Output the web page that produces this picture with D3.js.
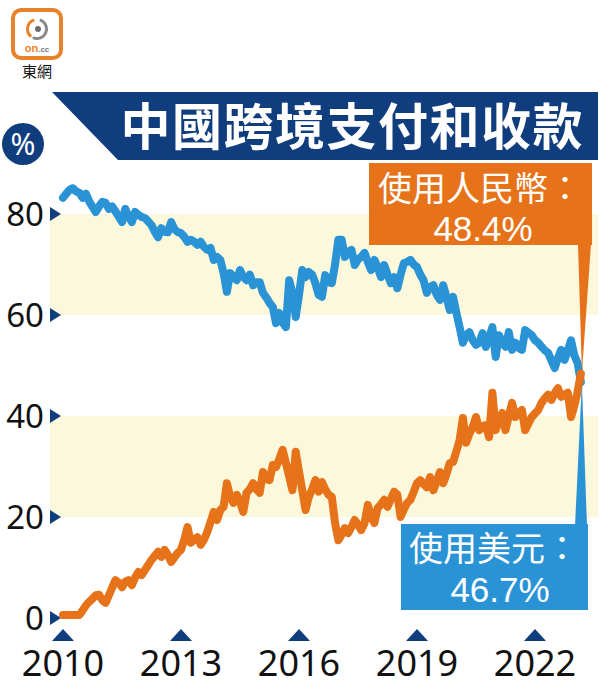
<!DOCTYPE html>
<html><head><meta charset="utf-8">
<script src="https://cdn.jsdelivr.net/npm/d3@7"></script>
<style>
html,body{margin:0;padding:0;background:#fff;}
svg{display:block;font-family:"Noto Sans CJK TC","Noto Sans",sans-serif;}
.lbl{font-family:"Liberation Sans","Noto Sans CJK TC",sans-serif;}
</style></head>
<body>
<svg id="c" width="609" height="693"></svg>
<script>
// ---- data ----
const title = "中國跨境支付和收款";
const startYear = 2010; // monthly series starting Jan 2010, ending Mar 2023
const usdShare = [83.2,84,84.8,85.1,84.5,84.2,83.2,84,82.5,81.4,80.4,81.5,82.4,82.2,81,81.5,80.5,79.5,78.4,81,
79.5,78.4,80.4,79.8,79.4,79.2,78.5,77.8,76.5,75.4,77.2,76.5,76.4,78.4,77,76.4,76.2,75.5,74.5,74.9,
74.5,73.9,74.5,73.5,72.9,73.3,70.9,71.5,70.9,68.3,64.6,68.3,67.5,66.9,68.9,67.5,66.9,68,65.9,66.5,
66.5,64.4,63.5,62.4,61.6,58.4,60.4,58.5,57.6,66.9,64.4,59.6,64,68.9,67.5,68.5,68,66.3,64,63.6,
67.9,66.5,66.3,70,74.9,74.9,71.5,72.5,72.9,69.9,71,71.5,72.3,70.5,68.9,70.9,69.5,67.5,69.9,68,
66.3,67.5,65.3,68,70.3,70.5,70.9,70,69.5,68,66.9,64.4,65.5,65.9,64,63,65.9,63.5,61,63.6,
60.5,57.6,54.5,56,56.6,55,54.1,54.5,56.4,53.7,55.5,57.6,51.7,56,54.5,53.7,56.6,53.1,54.5,53.5,
53.1,57,56.5,56,55,54.5,53.7,53,52.5,51,49.5,51.5,53.1,51.1,53,55,52,50.5,46.7];
const rmbShare = [0.6,0.6,0.6,0.6,0.6,0.6,1.5,2.5,3.2,3.8,4.5,4.6,3.5,3,4.5,6,7.5,7,6.1,7.2,
7.5,6.5,8,9.1,8.5,9.5,10.5,11.5,12.3,13.1,12.1,13.5,12.5,11.1,12,12.9,13.5,15.5,18,14.9,
15.5,16,14.5,15.5,17,19,21,19.4,21.4,22,26.7,24,22.8,24.4,23,21,24.8,25.5,26.7,25.5,
24.8,28.9,27.5,27.3,30.3,29.9,31.5,33.3,30.7,28,25.3,32.9,29,25.3,21.4,24,25.5,27.3,25,26.9,
25.5,24.4,24,18.8,15.4,16.5,17.8,16.8,18,19.4,18.5,17.4,18.8,22.4,20,18.8,21.8,22.5,23.4,22,
23.5,25,24.4,20,21.5,22.8,23.4,25,26.7,27.3,26.5,25.9,27.9,25.3,27,28.9,26.7,28.5,30.7,30.9,
33,35.2,39.6,34.7,36.5,37.8,39.8,37.2,38,38.2,35.8,44.6,37.2,39,40.6,37.2,40,42.6,39.8,40.5,
41.2,37.2,38.5,39.8,40.5,41.2,42.6,43.5,44.2,43.2,44.5,45.5,43.8,44.2,44.6,39.8,42,44.8,48.4];
const yTicks = [0,20,40,60,80];
const xTicks = [2010,2013,2016,2019,2022];
const bands = [[60,80],[20,40]];
const rmbLabel = ["使用人民幣：","48.4%"];
const usdLabel = ["使用美元：","46.7%"];

// ---- drawing ----
const navy = "#0f3d7d", blue = "#2a93d5", orange = "#e6731a", cream = "#fbf8dc";
const svg = d3.select("#c");
const x = d3.scaleLinear().domain([2010, 2022]).range([63, 535]);
const y = d3.scaleLinear().domain([0, 80]).range([618, 214]);
const t = i => startYear + i / 12;

// logo
const logo = svg.append("g");
logo.append("rect").attr("x",13).attr("y",10).attr("width",48).attr("height",48).attr("rx",8)
  .attr("fill","#fff").attr("stroke","#e8822a").attr("stroke-width",4);
const arc = d3.arc();
logo.append("path").attr("transform","translate(37,29)")
  .attr("d", arc({innerRadius:8,outerRadius:11,startAngle:0.3,endAngle:3.6})).attr("fill","#8a8a8a");
logo.append("path").attr("transform","translate(37,29)")
  .attr("d", arc({innerRadius:8,outerRadius:11,startAngle:3.8,endAngle:6.0})).attr("fill","#e8822a");
logo.append("circle").attr("cx",38).attr("cy",29).attr("r",3).attr("fill","#6d6d6d");
const lt = logo.append("text").attr("x",37).attr("y",52).attr("text-anchor","middle")
  .attr("font-family","Liberation Sans, sans-serif").attr("font-weight","bold");
lt.append("tspan").attr("font-size",11).attr("fill","#e8822a").text("on");
lt.append("tspan").attr("font-size",8).attr("fill","#777").text(".cc");
logo.append("text").attr("x",37).attr("y",77).attr("text-anchor","middle")
  .attr("font-size",15).attr("fill","#111").text("東網");

// title banner
svg.append("polygon").attr("points","52,92 598,92 598,160 118,160").attr("fill",navy);
svg.append("text").attr("x",584).attr("y",145).attr("text-anchor","end")
  .attr("font-size",50).attr("letter-spacing",1.5).attr("font-weight","bold").attr("fill","#fff").text(title);

// % badge
svg.append("circle").attr("cx",23).attr("cy",144).attr("r",21).attr("fill",navy);
svg.append("text").attr("x",23).attr("y",155).attr("text-anchor","middle")
  .attr("font-size",30).attr("fill","#fff").attr("font-family","Noto Sans, sans-serif").text("%");

// bands
svg.selectAll("rect.band").data(bands).join("rect").attr("class","band")
  .attr("x",50).attr("width",548)
  .attr("y",d=>y(d[1])).attr("height",d=>y(d[0])-y(d[1])).attr("fill",cream);

// y ticks
const yt = svg.selectAll("g.yt").data(yTicks).join("g").attr("class","yt")
  .attr("transform",d=>`translate(0,${y(d)})`);
yt.append("path").attr("d","M50,-7 L61,0 L50,7 Z").attr("fill",navy);
yt.append("text").attr("x",44).attr("y",12).attr("text-anchor","end")
  .attr("font-size",33).attr("fill","#111").attr("font-family","Noto Sans, sans-serif").text(d=>d);

// x ticks
const xt = svg.selectAll("g.xt").data(xTicks).join("g").attr("class","xt")
  .attr("transform",d=>`translate(${x(d)},0)`);
xt.append("path").attr("d","M-11,641 L0,629 L11,641 Z").attr("fill",navy);
xt.append("text").attr("x",0).attr("y",676).attr("text-anchor","middle")
  .attr("font-size",36).attr("fill","#111").attr("font-family","Noto Sans, sans-serif").text(d=>d);

// lines
const line = d3.line().x((d,i)=>x(t(i))).y(d=>y(d)).curve(d3.curveLinear);
svg.append("path").attr("d",line(usdShare)).attr("fill","none").attr("stroke",blue)
  .attr("stroke-width",8).attr("stroke-linejoin","round").attr("stroke-linecap","round");
svg.append("path").attr("d",line(rmbShare)).attr("fill","none").attr("stroke",orange)
  .attr("stroke-width",8).attr("stroke-linejoin","round").attr("stroke-linecap","round");

const lastI = usdShare.length - 1;
const ex = x(t(lastI));

// orange label
svg.append("polygon").attr("points",`578,244 591,244 ${ex+1},${y(rmbShare[lastI])}`).attr("fill",orange);
svg.append("rect").attr("x",369).attr("y",163).attr("width",223).attr("height",82).attr("fill",orange);
svg.append("text").attr("class","lbl").attr("x",480).attr("y",201).attr("text-anchor","middle")
  .attr("font-size",34).attr("fill","#fff").text(rmbLabel[0]);
svg.append("text").attr("class","lbl").attr("x",483).attr("y",241).attr("text-anchor","middle")
  .attr("font-size",35).attr("fill","#fff").text(rmbLabel[1]);

// blue label
svg.append("polygon").attr("points",`575,526 587,526 ${ex+1},${y(usdShare[lastI])}`).attr("fill",blue);
svg.append("rect").attr("x",401).attr("y",524).attr("width",187).attr("height",86).attr("fill",blue);
svg.append("text").attr("class","lbl").attr("x",494).attr("y",561).attr("text-anchor","middle")
  .attr("font-size",34).attr("fill","#fff").text(usdLabel[0]);
svg.append("text").attr("class","lbl").attr("x",500).attr("y",602).attr("text-anchor","middle")
  .attr("font-size",35).attr("fill","#fff").text(usdLabel[1]);
</script>
</body></html>
